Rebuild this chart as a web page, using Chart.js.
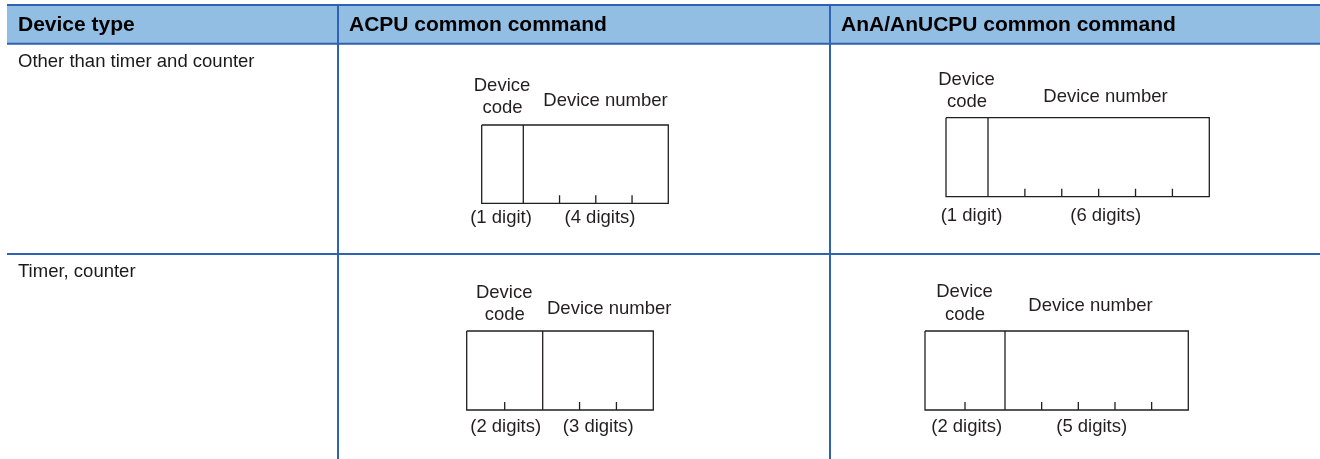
<!DOCTYPE html>
<html>
<head>
<meta charset="utf-8">
<script src="https://cdn.jsdelivr.net/npm/chart.js@4/dist/chart.umd.min.js"></script>
<style>
  html, body { margin: 0; padding: 0; background: #ffffff; }
  #wrap { width: 1320px; height: 459px; }
</style>
</head>
<body>
<div id="wrap"><canvas id="c" width="1320" height="459"></canvas></div>
<script>
// ---- data ----
const columnHeaders = ['Device type', 'ACPU common command', 'AnA/AnUCPU common command'];
const deviceTypes = ['Other than timer and counter', 'Timer, counter'];
const acpuCodeDigits = [1, 2];
const acpuNumberDigits = [4, 3];
const ananuCodeDigits = [1, 2];
const ananuNumberDigits = [6, 5];
const codeLabelLines = ['Device', 'code'];
const numberLabel = 'Device number';

// ---- layout (positions only) ----
const tableLeft = 7, tableRight = 1320, tableTop = 5, headerBottom = 43.7, rowDivider = 254, tableBottom = 459;
const colDividers = [338, 830];
const colTextX = [18, 349, 841];
const rowTops = [headerBottom, rowDivider];
// one entry per diagram: row, column, box geometry, label baselines
const diagLayout = [
  { row: 0, col: 1, left: 481.7, top: 125, bottom: 203.3, codeW: 41.6, numW: 145,
    codeY: [91, 112.7], numX: 605.5, numY: 106, codeDigX: 501, numDigX: 600, digY: 223.3 },
  { row: 0, col: 2, left: 946, top: 117.7, bottom: 196.7, codeW: 42, numW: 221.3,
    codeY: [85, 106.7], numX: 1105.5, numY: 102.3, codeDigX: 971.5, numDigX: 1105.7, digY: 220.7 },
  { row: 1, col: 1, left: 466.7, top: 331, bottom: 410, codeW: 76, numW: 110.6,
    codeY: [298.3, 320], numX: 609.2, numY: 314.3, codeDigX: 505.7, numDigX: 598.3, digY: 431.7 },
  { row: 1, col: 2, left: 925, top: 331, bottom: 410, codeW: 80, numW: 183.3,
    codeY: [297.3, 320], numX: 1090.5, numY: 310.7, codeDigX: 966.7, numDigX: 1091.7, digY: 431.7 }
];
const tickLen = 8;

const BLUE = '#2f62b0';
const HEADER_FILL = '#93bee4';
const INK = '#231f20';

function digitsText(n) { return n === 1 ? '(1 digit)' : '(' + n + ' digits)'; }

function diagDigits(i) {
  const L = diagLayout[i];
  const codeD = L.col === 1 ? acpuCodeDigits[L.row] : ananuCodeDigits[L.row];
  const numD = L.col === 1 ? acpuNumberDigits[L.row] : ananuNumberDigits[L.row];
  return { codeD, numD };
}

// Build a polyline dataset (gaps via null) for each diagram's box, divider and digit ticks
function diagramPoints(i) {
  const L = diagLayout[i];
  const { codeD, numD } = diagDigits(i);
  const right = L.left + L.codeW + L.numW;
  const div = L.left + L.codeW;
  const pts = [];
  const gap = () => pts.push({ x: pts.length ? pts[pts.length - 1].x : 0, y: null });
  // outline
  pts.push({ x: L.left, y: L.top }, { x: right, y: L.top }, { x: right, y: L.bottom },
           { x: L.left, y: L.bottom }, { x: L.left, y: L.top });
  gap();
  // divider between code and number
  pts.push({ x: div, y: L.top }, { x: div, y: L.bottom });
  gap();
  // ticks between digits of code part
  for (let k = 1; k < codeD; k++) {
    const x = L.left + L.codeW * k / codeD;
    pts.push({ x, y: L.bottom - tickLen }, { x, y: L.bottom });
    gap();
  }
  // ticks between digits of number part
  for (let k = 1; k < numD; k++) {
    const x = div + L.numW * k / numD;
    pts.push({ x, y: L.bottom - tickLen }, { x, y: L.bottom });
    gap();
  }
  return pts;
}

const datasets = diagLayout.map((L, i) => ({
  data: diagramPoints(i),
  borderColor: INK,
  borderWidth: 1.3,
  pointRadius: 0,
  fill: false,
  tension: 0,
  spanGaps: false,
  borderJoinStyle: 'miter',
  borderCapStyle: 'butt'
}));

const tablePlugin = {
  id: 'tablePlugin',
  beforeDatasetsDraw(chart) {
    const ctx = chart.ctx;
    const xs = chart.scales.x, ys = chart.scales.y;
    const X = v => xs.getPixelForValue(v), Y = v => ys.getPixelForValue(v);
    ctx.save();
    ctx.fillStyle = '#ffffff';
    ctx.fillRect(0, 0, chart.width, chart.height);
    // header fill
    ctx.fillStyle = HEADER_FILL;
    ctx.fillRect(X(tableLeft), Y(tableTop), X(tableRight) - X(tableLeft), Y(headerBottom) - Y(tableTop));
    // borders
    ctx.strokeStyle = BLUE;
    ctx.lineWidth = 2;
    ctx.beginPath();
    [tableTop, headerBottom, rowDivider].forEach(y => {
      ctx.moveTo(X(tableLeft), Y(y)); ctx.lineTo(X(tableRight), Y(y));
    });
    colDividers.forEach(x => {
      ctx.moveTo(X(x), Y(tableTop)); ctx.lineTo(X(x), Y(tableBottom));
    });
    ctx.stroke();
    // header texts
    ctx.fillStyle = '#000000';
    ctx.textBaseline = 'alphabetic';
    ctx.textAlign = 'left';
    ctx.font = 'bold 21px "Liberation Sans", Arial, sans-serif';
    columnHeaders.forEach((t, i) => ctx.fillText(t, X(colTextX[i]), Y(30.5)));
    // row texts
    ctx.fillStyle = '#1a1a1a';
    ctx.font = '18.5px "Liberation Sans", Arial, sans-serif';
    deviceTypes.forEach((t, i) => ctx.fillText(t, X(colTextX[0]), Y(rowTops[i] + 23)));
    // diagram labels
    ctx.fillStyle = INK;
    ctx.textAlign = 'center';
    diagLayout.forEach((L, i) => {
      const { codeD, numD } = diagDigits(i);
      const codeCx = L.left + L.codeW / 2;
      codeLabelLines.forEach((s, k) => ctx.fillText(s, X(codeCx + (k === 0 ? -0.5 : 0)), Y(L.codeY[k])));
      ctx.fillText(numberLabel, X(L.numX), Y(L.numY));
      ctx.fillText(digitsText(codeD), X(L.codeDigX), Y(L.digY));
      ctx.fillText(digitsText(numD), X(L.numDigX), Y(L.digY));
    });
    ctx.restore();
  }
};

new Chart(document.getElementById('c'), {
  type: 'line',
  data: { datasets },
  options: {
    responsive: false,
    animation: false,
    devicePixelRatio: 1,
    parsing: true,
    layout: { padding: 0 },
    plugins: { legend: { display: false }, tooltip: { enabled: false }, title: { display: false } },
    scales: {
      x: { type: 'linear', min: 0, max: 1320, display: false },
      y: { type: 'linear', min: 0, max: 459, reverse: true, display: false }
    },
    events: []
  },
  plugins: [tablePlugin]
});
</script>
</body>
</html>
